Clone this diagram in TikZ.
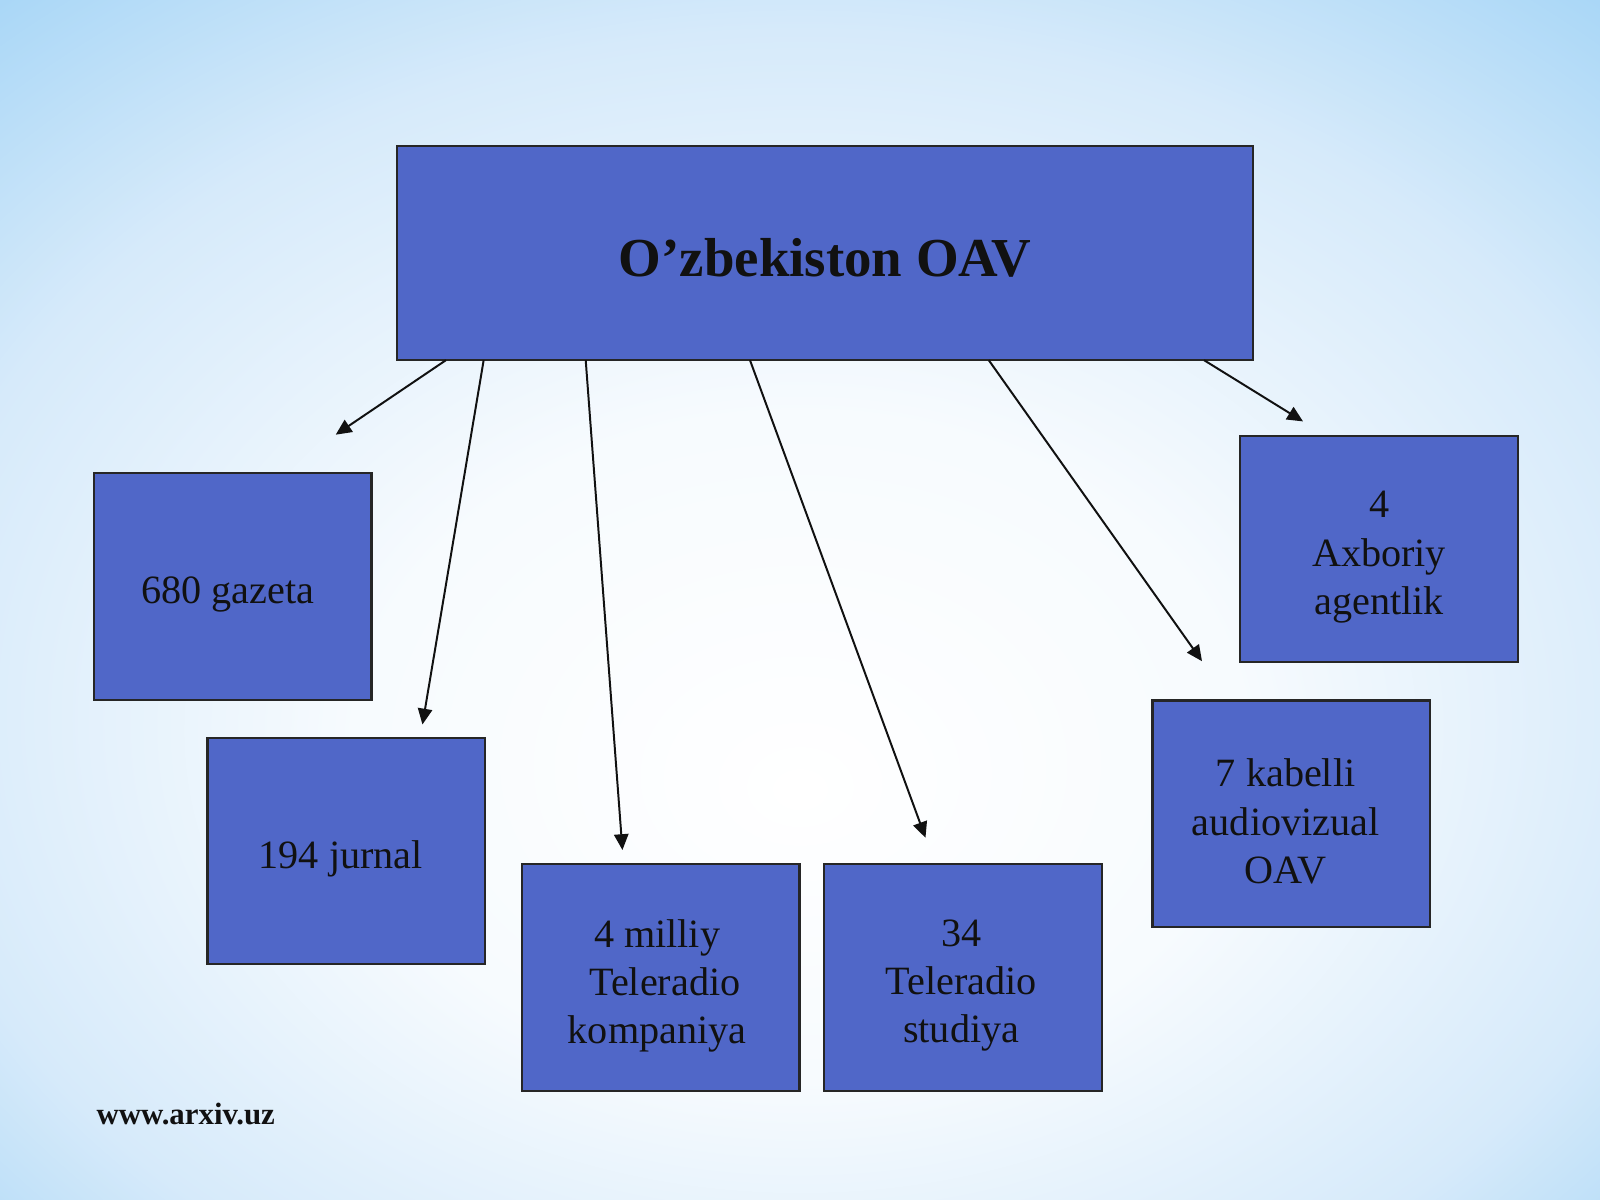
\documentclass[tikz,border=0pt]{standalone}
\usepackage{fontspec}
\setmainfont{Liberation Serif}
\usetikzlibrary{arrows.meta}
\definecolor{boxblue}{RGB}{80,103,200}
\definecolor{bgmid}{RGB}{214,234,250}
\definecolor{bgout}{RGB}{158,210,246}
\definecolor{inkc}{RGB}{17,17,17}
\pgfdeclareradialshading{bgshade}{\pgfpoint{0bp}{-8bp}}{color(0bp)=(white); color(14bp)=(white!80!bgmid); color(28bp)=(bgmid); color(40bp)=(bgout); color(60bp)=(bgout)}
\tikzset{
  box/.style={draw=black!85, line width=0.6pt, fill=boxblue, inner sep=0pt, outer sep=0pt,
    minimum width=2.72cm, minimum height=2.22cm},
  boxtext/.style={inner sep=0pt, align=center, text=inkc,
    font=\fontsize{11.2pt}{13.4pt}\selectfont},
  topbox/.style={draw=black!85, line width=0.6pt, fill=boxblue, inner sep=0pt, outer sep=0pt,
    minimum width=8.39cm, minimum height=2.10cm},
  toptext/.style={inner sep=0pt, text=inkc, font=\fontsize{15.3pt}{18pt}\selectfont\bfseries},
  arr/.style={draw=inkc, line width=0.55pt, -{Triangle[length=4.4pt,width=4pt]}}
}
\begin{document}
\begin{tikzpicture}[x=0.01cm, y=-0.01cm]
\useasboundingbox (0,0) rectangle (1568,1176);
\shade[shading=bgshade] (0,0) rectangle (1568,1176);
\node[topbox] (top) at (808.5,248) {};
\node[toptext] (topt) at (808.5,253) {O’zbekiston OAV};
\node[box] (gaz) at (228,575) {};
\node[boxtext] (gazt) at (223,583) {680 gazeta};
\node[box] (jur) at (339.5,834) {};
\node[boxtext] (jurt) at (334,842) {194 jurnal};
\node[box] (mil) at (647.5,958) {};
\node[boxtext] (milt) at (644,966) {4 milliy\\ \hspace*{0.15cm}Teleradio\\ kompaniya};
\node[box] (stu) at (944,958) {};
\node[boxtext] (stut) at (942,966) {34\\ Teleradio\\ studiya};
\node[box] (kab) at (1265.5,797.5) {};
\node[boxtext] (kabt) at (1260,805) {7 kabelli\\ audiovizual\\ OAV};
\node[box] (axb) at (1351.5,538) {};
\node[boxtext] (axbt) at (1351.5,546) {4\\ Axboriy\\ agentlik};
\coordinate (s1) at (437,353); \coordinate (e1) at (329,426);
\coordinate (s2) at (474,353); \coordinate (e2) at (414,710);
\coordinate (s3) at (574,353); \coordinate (e3) at (610,833);
\coordinate (s4) at (735,353); \coordinate (e4) at (907,821);
\coordinate (s5) at (969,353); \coordinate (e5) at (1178,648);
\coordinate (s6) at (1180,353); \coordinate (e6) at (1277,413);
\draw[arr] (s1) -- (e1);
\draw[arr] (s2) -- (e2);
\draw[arr] (s3) -- (e3);
\draw[arr] (s4) -- (e4);
\draw[arr] (s5) -- (e5);
\draw[arr] (s6) -- (e6);
\node[anchor=west, inner sep=0pt, text=inkc, font=\fontsize{8.6pt}{10pt}\selectfont\bfseries] (web) at (94,1092) {www.arxiv.uz};
\end{tikzpicture}
\end{document}
